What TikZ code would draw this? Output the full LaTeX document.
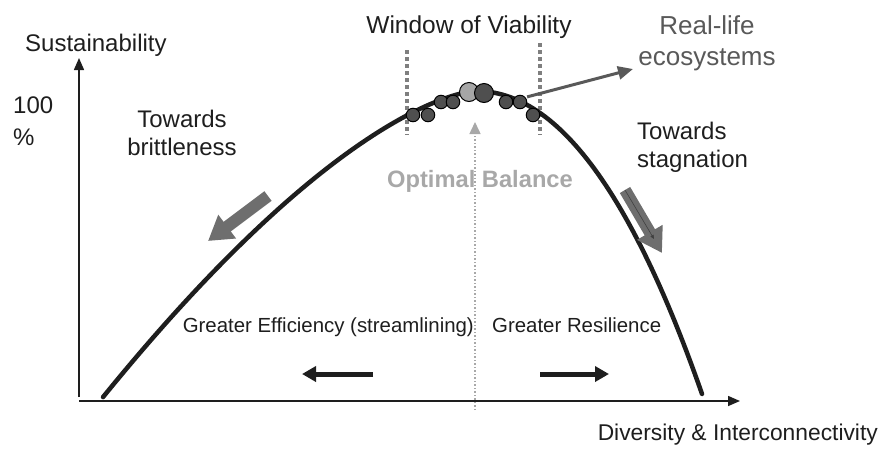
\documentclass[tikz,border=0pt]{standalone}
\usepackage{fontspec}
\setmainfont{Liberation Sans}
\usetikzlibrary{arrows.meta}
\definecolor{txt}{HTML}{1E1E1E}
\definecolor{blockgray}{HTML}{6E6E6E}
\definecolor{dashgray}{HTML}{7F7F7F}
\definecolor{lightgray2}{HTML}{A8A8A8}
\definecolor{realgray}{HTML}{595959}
\definecolor{balldark}{HTML}{4F4F4F}
\definecolor{balllight}{HTML}{A6A6A6}
\tikzset{
  lbl/.style={inner sep=0pt, text=txt, font=\fontsize{24}{28}\selectfont},
  axis/.style={line width=1.5pt, draw=txt, -{Triangle[length=12pt,width=10pt]}},
  curve/.style={line width=4.5pt, draw=txt, line cap=round, line join=round},
  window/.style={line width=4pt, draw=dashgray, dash pattern=on 4pt off 3pt},
  blockarrow/.style={line width=12pt, draw=blockgray, -{Triangle[length=24pt,width=28pt]}},
  blackarrow/.style={line width=5pt, draw=txt, -{Triangle[length=14pt,width=15pt]}},
  ball/.style={circle, draw=black, line width=1pt, fill=balldark, minimum size=13.5pt, inner sep=0pt},
  bigball/.style={ball, minimum size=19pt},
}
\begin{document}
\begin{tikzpicture}[x=1pt,y=-1pt]
\useasboundingbox (0,0) rectangle (892,448);

% window of viability dashed lines
\draw[window] (407,50) -- (407,135);
\draw[window] (540,43) -- (540,135);

% axes
\coordinate (o) at (79,401);
\coordinate (ytop) at (79,58);
\coordinate (xend) at (740,401);
\coordinate (ybot) at (79,397);
\draw[axis] (ybot) -- (ytop);
\draw[axis] (o) -- (xend);

% curve
\draw[curve] plot[domain=103:476, samples=90] (\x,{91+42.5*((476-\x)/100)^1.5})
  -- plot[domain=476:702, samples=60] (\x,{91+51.4*((\x-476)/100)^2+3.5*((\x-476)/100)^3});

% balls
\node[ball] (b1) at (413,115) {};
\node[ball] (b2) at (428,115) {};
\node[ball] (b3) at (441,102) {};
\node[ball] (b4) at (453,102) {};
\node[ball] (b7) at (506,102) {};
\node[ball] (b8) at (520,102) {};
\node[ball] (b9) at (533,115) {};
\node[bigball, fill=balllight] (b5) at (469,92) {};
\node[bigball] (b6) at (484,93) {};

% texts
\node[lbl, anchor=base west] (sus) at (25,51) {Sustainability};
\node[lbl, anchor=base west] (hundred) at (13,113) {100};
\node[lbl, anchor=base west] (pct) at (13,145) {\%};
\node[lbl, anchor=base, align=center] (brit) at (182,155) {Towards\\brittleness};
\node[lbl, anchor=base west, align=left] (stag) at (637,167) {Towards\\stagnation};
\node[lbl, anchor=base, font=\fontsize{24.5}{28}\selectfont] (wov) at (469,33) {Window of Viability};
\node[lbl, anchor=base, align=center, text=realgray, font=\fontsize{26}{31}\selectfont] (real) at (707,65) {Real-life\\ecosystems};
\node[lbl, anchor=base, text=lightgray2, font=\fontsize{23.7}{28}\selectfont\bfseries] (opt) at (480,187) {Optimal Balance};
\node[lbl, anchor=base east, font=\fontsize{20.4}{24}\selectfont] (eff) at (474,332) {Greater Efficiency (streamlining)};
\node[lbl, anchor=base west, font=\fontsize{20.4}{24}\selectfont] (res) at (492,332) {Greater Resilience};
\node[lbl, anchor=base east, font=\fontsize{22.8}{26}\selectfont] (div) at (878,440) {Diversity \& Interconnectivity};

% real-life arrow
\coordinate (rtip) at (633,69);
\draw[line width=3pt, draw=realgray, -{Triangle[length=15pt,width=13pt]}] (b8.north east) ++(2,0) coordinate (rstart) -- (rtip);

% optimal balance dotted line
\coordinate (dbot) at (475,410);
\coordinate (dtop) at (475,122);
\draw[line width=1.5pt, draw=lightgray2, dotted, -{Triangle[length=12pt,width=11pt]}] (dbot) -- (dtop);

% gray block arrows
\coordinate (la1) at (268,196);
\coordinate (la2) at (208,241);
\coordinate (ra1) at (625,190);
\coordinate (ra2) at (662,253);
\coordinate (ra3) at (654,239);
\draw[blockarrow] (la1) -- (la2);
\draw[blockarrow] (ra1) -- (ra2);
\draw[line width=0.6pt, draw=black!75, -{Triangle[length=4pt,width=3.5pt]}] (ra1) -- (ra3);

% black arrows
\coordinate (bl1) at (373,374);
\coordinate (bl2) at (302,374);
\coordinate (br1) at (540,374);
\coordinate (br2) at (609,374);
\draw[blackarrow] (bl1) -- (bl2);
\draw[blackarrow] (br1) -- (br2);
\end{tikzpicture}
\end{document}
